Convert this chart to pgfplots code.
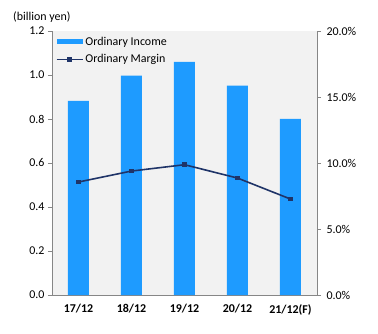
\documentclass[border=0pt]{standalone}
\usepackage{pgfplots}
\pgfplotsset{compat=1.18}
\usepackage{fontspec}
\setmainfont{Carlito}
\definecolor{barblue}{HTML}{1E9BFF}
\definecolor{navy}{HTML}{1F3468}
\definecolor{bg}{HTML}{F2F2F2}
\definecolor{axgray}{HTML}{868686}
\begin{document}
\begin{tikzpicture}
\path[use as bounding box] (-52bp,-39bp) rectangle (326bp,295bp);
\pgfplotsset{
  common/.style={
    scale only axis, width=265bp, height=264bp,
    xmin=-0.5, xmax=4.5,
    axis line style={axgray, line width=0.8pt},
    tick style={axgray, line width=0.8pt},
    tick align=outside,
    major tick length=4bp,
    minor tick length=4bp,
    /pgf/number format/assume math mode=true,
    tick label style={font=\fontsize{12}{14}\selectfont, text=black},
  }
}
\begin{axis}[common,
  axis background/.style={fill=bg},
  axis x line*=bottom, axis y line*=left,
  ymin=0, ymax=1.2, ytick={0,0.2,...,1.2},
  yticklabel style={/pgf/number format/.cd, fixed, fixed zerofill, precision=1},
  xtick={0,1,2,3,4},
  xticklabels={17/12,18/12,19/12,20/12,21/12(F)},
  x tick label style={font=\fontsize{12}{14}\selectfont\bfseries, yshift=-2bp},
  x tick style={draw=none},
  minor xtick={-0.5,0.5,1.5,2.5,3.5,4.5},
  minor x tick style={axgray, line width=0.8pt},
  legend style={draw=none, fill=none, at={(0.01,0.99)}, anchor=north west,
    font=\fontsize{12}{14}\selectfont, row sep=4bp,
    legend cell align=left, inner sep=1pt},
]
\addplot[ybar, bar width=21bp, fill=barblue, draw=none,
  legend image code/.code={\fill[barblue] (0bp,-2.6bp) rectangle (26bp,2.6bp);}]
  coordinates {(0,0.882) (1,0.997) (2,1.06) (3,0.952) (4,0.80)};
\addlegendentry{Ordinary Income}
\addlegendimage{navy, line width=1.6pt, mark=square*, mark size=1.6bp,
  legend image code/.code={\draw[navy, line width=1.6pt] (0bp,0bp) -- (26bp,0bp); \fill[navy] (11bp,-1.8bp) rectangle (14.6bp,1.8bp);}}
\addlegendentry{Ordinary Margin}
\end{axis}
\begin{axis}[common,
  axis x line=none, axis y line*=right,
  ymin=0, ymax=20, ytick={0,5,...,20},
  yticklabel={\pgfmathprintnumber[fixed,fixed zerofill,precision=1]{\tick}\%},
  yticklabel style={xshift=2bp},
]
\addplot[navy, line width=1.6pt, mark=square*, mark size=1.6bp]
  coordinates {(0,8.56) (1,9.39) (2,9.87) (3,8.86) (4,7.27)};
\end{axis}
\node[anchor=base west, font=\fontsize{12}{14}\selectfont, inner sep=0pt] at (-39bp,274bp) {(billion yen)};
\end{tikzpicture}
\end{document}
